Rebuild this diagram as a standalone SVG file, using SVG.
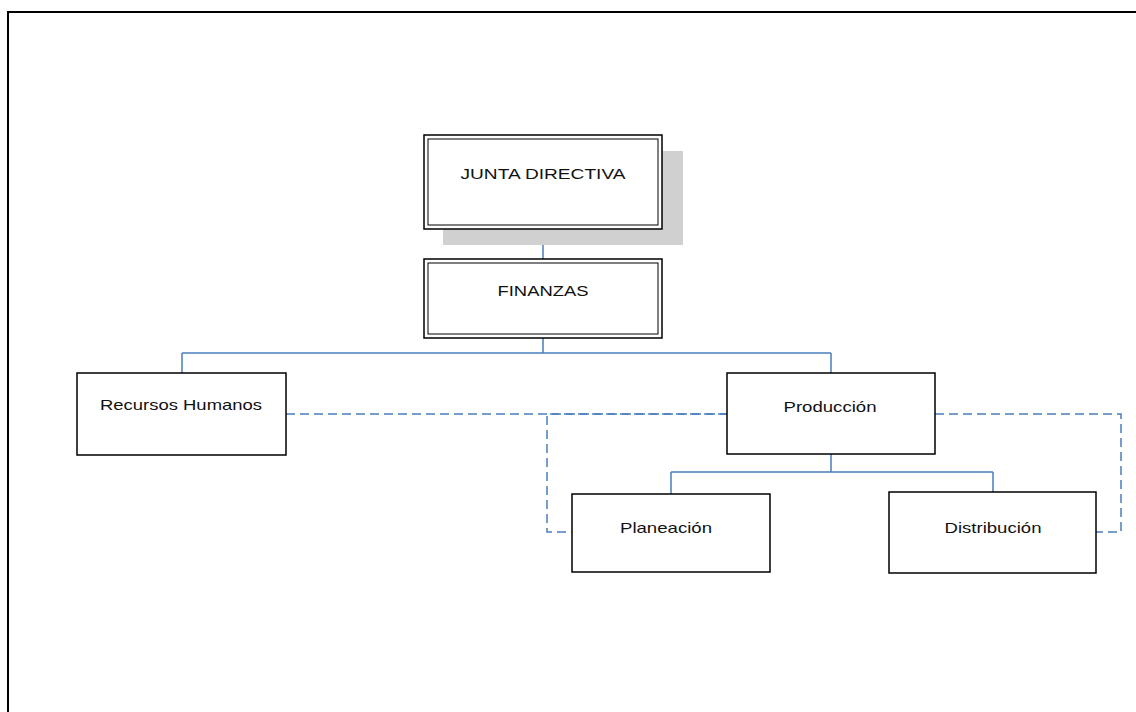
<svg xmlns="http://www.w3.org/2000/svg" width="1136" height="712" viewBox="0 0 1136 712">
<style>
.frame{fill:none;stroke:#000;stroke-width:2}
.box{fill:#fff;stroke:#000;stroke-width:1.5}
.inner{fill:none;stroke:#000;stroke-width:1}
.shadow{fill:#d0d0d0}
.lbl{font-family:"Liberation Sans",Arial,sans-serif;font-size:15px;fill:#111;text-anchor:middle}
.conn{fill:none;stroke:#4a7ebb;stroke-width:1.5}
.dash{fill:none;stroke:#4a7ebb;stroke-width:1.5;stroke-dasharray:9 5}
</style>
<rect x="0" y="0" width="1136" height="712" fill="#fff"/>
<rect class="frame" x="8" y="12" width="1140" height="720"/>
<g id="connectors">
<path class="conn" d="M543,229 V259"/>
<path class="conn" d="M543,338 V353 M182,353 H831 M182,353 V373 M831,353 V373"/>
<path class="conn" d="M831,454 V472 M671,472 H993 M671,472 V494 M993,472 V492"/>
<path class="dash" d="M286,414 H727"/>
<path class="dash" d="M727,414 H547 V532 H572"/>
<path class="dash" d="M935,414 H1121 V532 H1096"/>
</g>
<g id="junta">
<rect class="shadow" x="443" y="151" width="240" height="94"/>
<rect class="box" x="424" y="135" width="238" height="94"/>
<rect class="inner" x="428" y="139" width="230" height="86"/>
<text class="lbl" x="543" y="179" textLength="165" lengthAdjust="spacingAndGlyphs">JUNTA DIRECTIVA</text>
</g>
<g id="finanzas">
<rect class="box" x="424" y="259" width="238" height="79"/>
<rect class="inner" x="428" y="263" width="230" height="71"/>
<text class="lbl" x="543" y="296" textLength="91" lengthAdjust="spacingAndGlyphs">FINANZAS</text>
</g>
<g id="rrhh">
<rect class="box" x="77" y="373" width="209" height="82"/>
<text class="lbl" x="181" y="410" textLength="162" lengthAdjust="spacingAndGlyphs">Recursos Humanos</text>
</g>
<g id="produccion">
<rect class="box" x="727" y="373" width="208" height="81"/>
<text class="lbl" x="830" y="412" textLength="93" lengthAdjust="spacingAndGlyphs">Producción</text>
</g>
<g id="planeacion">
<rect class="box" x="572" y="494" width="198" height="78"/>
<text class="lbl" x="666" y="533" textLength="92" lengthAdjust="spacingAndGlyphs">Planeación</text>
</g>
<g id="distribucion">
<rect class="box" x="889" y="492" width="207" height="81"/>
<text class="lbl" x="993" y="533" textLength="97" lengthAdjust="spacingAndGlyphs">Distribución</text>
</g>
</svg>
